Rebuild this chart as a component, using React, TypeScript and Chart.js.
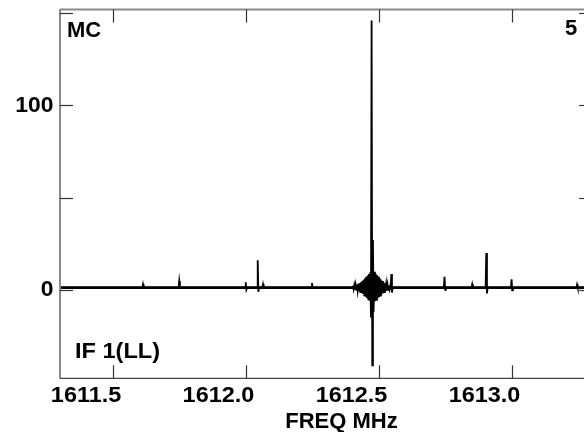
import { useEffect, useRef } from 'react';
import { Chart, registerables } from 'chart.js';

Chart.register(...registerables);

// ---- data ----
const xMin = 1611.3;
const xMax = 1613.3;
const yMin = -48;
const yMax = 152;
const xTickValues = [1611.5, 1612.0, 1612.5, 1613.0];
const xTickLabels = ['1611.5', '1612.0', '1612.5', '1613.0'];
const yTickValues = [0, 50, 100, 150];
const yTickLabels = ['0', '', '100', ''];
const baselineLevel = 1.2;
const channelWidth = 0.0025;

// isolated narrow spikes: frequency (MHz), peak value, value of following channel
const spikeFreqs = [1611.612, 1611.748, 1611.998, 1612.043, 1612.063, 1612.247, 1612.545, 1612.745, 1612.849, 1612.902, 1612.997, 1613.243];
const spikeHeights = [3.0, 4.7, 4.1, 16, 3.0, 3.7, 8.5, 7.0, 3.0, 20, 5.7, 2.8];
const spikeDips = [1.2, 1.2, 0.2, -1.1, 1.2, 1.2, -1.5, 0.0, 1.2, -2.0, -0.3, 1.2];

// strong line with ringing, channels centred on mainPeakCenter
const mainPeakCenter = 1612.471;
const mainPeakValues = [
  2.2, 0.3, 2.4, 0.1, 2.6, -0.1, 2.9, -0.4,
  3.2, -0.8, 3.6, -1.2, 4.1, -1.7, 4.7, -2.3,
  5.4, -3.0, 6.2, -3.8, 7.0, -4.5, 7.8, -5.2,
  8.6, -6.0, 9.5, -15,
  146,
  -41, 27, -12, 9.8,
  -6.2, 8.8, -5.4, 8.0, -4.7, 7.2, -4.0, 6.4,
  -3.2, 5.6, -2.5, 4.8, -1.9, 4.1, -1.3, 3.5,
  -0.8, 3.0, -0.4, 2.6, -0.1, 2.3, 0.3, 2.0,
];

const sourceLabel = 'MC';
const panelLabel = '5';
const ifLabel = 'IF 1(LL)';
const xTitle = 'FREQ MHz';

function buildSpectrum() {
  const segments: { x: number; y: number }[][] = [];
  spikeFreqs.forEach((f, i) => {
    segments.push([
      { x: f - channelWidth, y: baselineLevel },
      { x: f, y: spikeHeights[i] },
      { x: f + channelWidth, y: spikeDips[i] },
      { x: f + 2 * channelWidth, y: baselineLevel },
    ]);
  });
  const half = (mainPeakValues.length - 1) / 2;
  const main = mainPeakValues.map((v, i) => ({ x: mainPeakCenter + (i - half) * channelWidth, y: v }));
  main.unshift({ x: main[0].x - channelWidth, y: baselineLevel });
  main.push({ x: main[main.length - 1].x + channelWidth, y: baselineLevel });
  segments.push(main);
  segments.sort((a, b) => a[0].x - b[0].x);
  const pts: { x: number; y: number }[] = [{ x: xMin, y: baselineLevel }];
  segments.forEach((s) => pts.push(...s));
  pts.push({ x: xMax, y: baselineLevel });
  return pts;
}

const FONT = '"Liberation Sans", Arial, Helvetica, sans-serif';

function drawScaledText(ctx: any, text: string, x: number, y: number, align: 'left' | 'right' | 'center', sx: number) {
  ctx.save();
  const w = ctx.measureText(text).width * sx;
  let left = x;
  if (align === 'right') left = x - w;
  else if (align === 'center') left = x - w / 2;
  ctx.translate(left, y);
  ctx.scale(sx, 1);
  ctx.textAlign = 'left';
  ctx.fillText(text, 0, 0);
  ctx.restore();
}

const framePlugin = {
  id: 'framePlugin',
  afterDraw(chart: any) {
    const { ctx, chartArea: a, scales } = chart;
    ctx.save();
    const line = (x1: number, y1: number, x2: number, y2: number) => {
      ctx.beginPath();
      ctx.moveTo(x1, y1);
      ctx.lineTo(x2, y2);
      ctx.stroke();
    };
    // frame
    ctx.lineCap = 'butt';
    ctx.strokeStyle = '#8a8a8a';
    ctx.lineWidth = 2;
    line(a.left, a.top, a.right, a.top);
    line(a.left, a.top, a.left, a.bottom);
    line(a.right, a.top, a.right, a.bottom);
    ctx.strokeStyle = '#444';
    ctx.lineWidth = 1.3;
    line(a.left, a.bottom, a.right, a.bottom);
    // inward ticks
    ctx.strokeStyle = '#333';
    ctx.lineWidth = 1.2;
    const tl = 13;
    xTickValues.forEach((v) => {
      const px = Math.round(scales.x.getPixelForValue(v)) + 0.5;
      line(px, a.bottom, px, a.bottom - tl);
      line(px, a.top, px, a.top + tl);
    });
    yTickValues.forEach((v) => {
      const py = Math.round(scales.y.getPixelForValue(v)) + 0.5;
      line(a.left, py, a.left + tl, py);
      line(a.right, py, a.right - tl, py);
    });
    // annotations and tick labels
    ctx.fillStyle = '#000';
    ctx.font = `bold 22px ${FONT}`;
    ctx.textBaseline = 'middle';
    drawScaledText(ctx, sourceLabel, a.left + 7, a.top + 21, 'left', 1.0);
    drawScaledText(ctx, panelLabel, a.right - 15, a.top + 19, 'right', 1.0);
    drawScaledText(ctx, ifLabel, a.left + 15, a.bottom - 26, 'left', 1.07);
    xTickValues.forEach((v, i) => {
      const px = scales.x.getPixelForValue(v);
      drawScaledText(ctx, xTickLabels[i], px + 8, a.bottom + 18, 'right', 1.065);
    });
    yTickValues.forEach((v, i) => {
      if (!yTickLabels[i]) return;
      const py = scales.y.getPixelForValue(v);
      drawScaledText(ctx, yTickLabels[i], a.left - 6.5, py + 0.5, 'right', 1.04);
    });
    drawScaledText(ctx, xTitle, 341.5, 421.5, 'center', 1.0);
    ctx.restore();
  },
};

export default function App() {
  const ref = useRef<HTMLCanvasElement | null>(null);
  useEffect(() => {
    document.body.style.overflow = 'hidden';
    const canvas = ref.current;
    if (!canvas) return;
    const chart = new Chart(canvas, {
      type: 'scatter',
      data: {
        datasets: [
          {
            data: [
              { x: xMin, y: baselineLevel },
              { x: xMax, y: baselineLevel },
            ],
            showLine: true,
            borderColor: '#000',
            borderWidth: 2.8,
            pointRadius: 0,
          },
          {
            data: buildSpectrum(),
            showLine: true,
            borderColor: '#000',
            borderWidth: 1.8,
            pointRadius: 0,
            tension: 0,
          },
        ],
      },
      options: {
        responsive: false,
        animation: false,
        devicePixelRatio: 1,
        events: [],
        layout: { padding: { top: 9.5, right: 7.8, left: 0, bottom: 0 } },
        plugins: { legend: { display: false }, tooltip: { enabled: false }, title: { display: false } },
        scales: {
          x: {
            type: 'linear',
            min: xMin,
            max: xMax,
            grid: { display: false, drawTicks: false },
            border: { display: false },
            afterBuildTicks: (s: any) => {
              s.ticks = xTickValues.map((value) => ({ value }));
            },
            afterFit: (s: any) => {
              s.height = 53.7;
              s.paddingLeft = 0;
              s.paddingRight = 0;
            },
            ticks: { display: false },
          },
          y: {
            type: 'linear',
            min: yMin,
            max: yMax,
            grid: { display: false, drawTicks: false },
            border: { display: false },
            afterBuildTicks: (s: any) => {
              s.ticks = yTickValues.map((value) => ({ value }));
            },
            afterFit: (s: any) => {
              s.width = 60;
              s.paddingTop = 0;
              s.paddingBottom = 0;
            },
            ticks: { display: false },
          },
        },
      },
      plugins: [framePlugin],
    });
    return () => chart.destroy();
  }, []);
  return (
    <div style={{ position: 'fixed', left: 0, top: 0, width: 600, height: 432, background: '#fff' }}>
      <canvas ref={ref} width={600} height={432} style={{ display: 'block', width: 600, height: 432 }} />
    </div>
  );
}
